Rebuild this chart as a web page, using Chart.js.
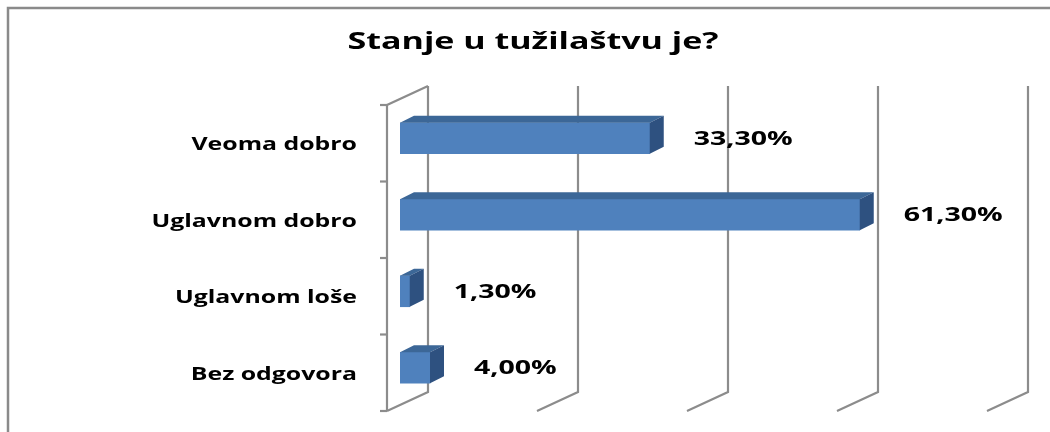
<!DOCTYPE html>
<html>
<head>
<meta charset="utf-8">
<script src="https://cdn.jsdelivr.net/npm/chart.js@4/dist/chart.umd.min.js"></script>
<style>
    html, body { margin: 0; padding: 0; background: #fff; }
    canvas { display: block; }
</style>
</head>
<body>
<canvas id="grafico" width="1050" height="432"></canvas>
<script>
// podaci
const naslov = 'Stanje u tužilaštvu je?'
const kategorije = ['Veoma dobro', 'Uglavnom dobro', 'Uglavnom loše', 'Bez odgovora']
const vrijednosti = [33.3, 61.3, 1.3, 4.0]
const xMin = 0
const xMax = 80
const xKorak = 20

// 3D pomaci (zadnji zid, prednja ravan, dubina stupca)
const zadnji = { dx: 28, dy: -14 }
const prednji = { dx: -13, dy: 5 }
const dubina = { dx: 14, dy: -7 }
const sivaLinija = '#8c8c8c'
const fontTekst = '"Open Sans", "DejaVu Sans", sans-serif'

function tekstRastegnut(ctx, tekst, x, y, sx, align) {
    ctx.save()
    ctx.translate(x, y)
    ctx.scale(sx, 1)
    ctx.textAlign = align
    ctx.textBaseline = 'middle'
    ctx.fillText(tekst, 0, 0)
    ctx.restore()
}

const pozadina3d = {
    id: 'pozadina3d',
    beforeDraw(chart) {
        const ctx = chart.ctx
        ctx.save()
        ctx.strokeStyle = '#8a8a8a'
        ctx.lineWidth = 2.5
        ctx.beginPath()
        ctx.moveTo(8, 432)
        ctx.lineTo(8, 8)
        ctx.lineTo(1050, 8)
        ctx.stroke()

        // naslov
        ctx.fillStyle = '#000'
        ctx.font = 'bold 23px ' + fontTekst
        tekstRastegnut(ctx, naslov, 533, 42, 1.48, 'center')
        ctx.restore()
    },
    beforeDatasetsDraw(chart) {
        const ctx = chart.ctx
        const { top, bottom } = chart.chartArea
        const x = chart.scales.x
        const y = chart.scales.y
        ctx.save()
        ctx.strokeStyle = sivaLinija
        ctx.lineWidth = 2.2
        ctx.lineCap = 'butt'

        x.ticks.forEach(t => {
            const px = x.getPixelForValue(t.value)
            ctx.beginPath()
            ctx.moveTo(px + prednji.dx, bottom + prednji.dy)
            ctx.lineTo(px + zadnji.dx, bottom + zadnji.dy)
            ctx.lineTo(px + zadnji.dx, top + zadnji.dy)
            ctx.stroke()
        })

        // lijevi zid i os
        const p0 = x.getPixelForValue(xMin)
        ctx.beginPath()
        ctx.moveTo(p0 + zadnji.dx, top + zadnji.dy)
        ctx.lineTo(p0 + prednji.dx, top + prednji.dy)
        ctx.lineTo(p0 + prednji.dx, bottom + prednji.dy)
        ctx.stroke()
        for (let i = 0; i <= kategorije.length; i++) {
            const yb = y.getPixelForValue(i - 0.5) + prednji.dy
            ctx.beginPath()
            ctx.moveTo(p0 + prednji.dx - 7, yb)
            ctx.lineTo(p0 + prednji.dx, yb)
            ctx.stroke()
        }

        // nazivi kategorija
        ctx.fillStyle = '#000'
        ctx.font = 'bold 18px ' + fontTekst
        kategorije.forEach((k, i) => {
            const py = y.getPixelForValue(i) + prednji.dy + 2
            tekstRastegnut(ctx, k, p0 - 43, py, 1.38, 'right')
        })
        ctx.restore()
    },
    afterDatasetsDraw(chart) {
        const ctx = chart.ctx
        const meta = chart.getDatasetMeta(0)
        ctx.save()
        meta.data.forEach((bar, i) => {
            const { x, y, base, height } = bar.getProps(['x', 'y', 'base', 'height'], true)
            const t = y - height / 2
            const b = y + height / 2
            // gornja ploha
            ctx.fillStyle = '#3c6797'
            ctx.beginPath()
            ctx.moveTo(base, t)
            ctx.lineTo(base + dubina.dx, t + dubina.dy)
            ctx.lineTo(x + dubina.dx, t + dubina.dy)
            ctx.lineTo(x, t)
            ctx.closePath()
            ctx.fill()
            // bocna ploha
            ctx.fillStyle = '#2e5180'
            ctx.beginPath()
            ctx.moveTo(x, t)
            ctx.lineTo(x + dubina.dx, t + dubina.dy)
            ctx.lineTo(x + dubina.dx, b + dubina.dy)
            ctx.lineTo(x, b)
            ctx.closePath()
            ctx.fill()

            // oznaka vrijednosti
            ctx.fillStyle = '#000'
            ctx.font = 'bold 19px ' + fontTekst
            const tekst = vrijednosti[i].toFixed(2).replace('.', ',') + '%'
            tekstRastegnut(ctx, tekst, x + 44, y + 1, 1.5, 'left')
        })
        ctx.restore()
    }
}

new Chart(document.getElementById('grafico').getContext('2d'), {
    type: 'bar',
    data: {
        labels: kategorije,
        datasets: [{
            label: naslov,
            data: vrijednosti,
            backgroundColor: '#4f81bd',
            barThickness: 31
        }]
    },
    options: {
        responsive: false,
        animation: false,
        indexAxis: 'y',
        layout: { padding: { left: 400, right: 50, top: 100, bottom: 26 } },
        plugins: {
            legend: { display: false },
            tooltip: { enabled: false }
        },
        scales: {
            x: { display: false, min: xMin, max: xMax, ticks: { stepSize: xKorak } },
            y: { display: false }
        }
    },
    plugins: [pozadina3d]
})
</script>
</body>
</html>
